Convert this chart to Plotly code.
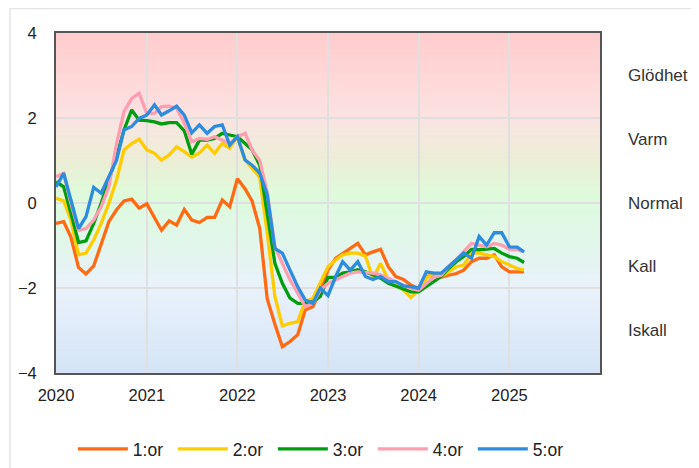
import plotly.graph_objects as go
import pandas as pd

months = pd.date_range("2020-01-01", periods=63, freq="MS").strftime("%Y-%m-%d").tolist()

y1 = [-0.48, -0.44, -0.80, -1.52, -1.67, -1.48, -0.97, -0.44, -0.16, 0.05, 0.09, -0.12,
      -0.02, -0.34, -0.64, -0.42, -0.52, -0.15, -0.40, -0.46, -0.34, -0.34, 0.07, -0.09,
      0.57, 0.33, 0.05, -0.60, -2.25, -2.85, -3.38, -3.26, -3.10, -2.52, -2.44, -2.07,
      -1.58, -1.30, -1.18, -1.07, -0.95, -1.22, -1.15, -1.09, -1.50, -1.73, -1.80, -1.93,
      -2.01, -1.73, -1.69, -1.75, -1.70, -1.66, -1.58, -1.38, -1.30, -1.30, -1.22, -1.50,
      -1.62, -1.62, -1.62]
y2 = [0.11, 0.05, -0.40, -1.22, -1.18, -0.87, -0.48, -0.01, 0.54, 1.25, 1.40, 1.50,
      1.25, 1.17, 1.01, 1.13, 1.32, 1.21, 1.08, 1.18, 1.36, 1.17, 1.40, 1.29,
      1.56, 1.01, 0.82, 0.60, -0.70, -2.20, -2.89, -2.83, -2.79, -2.32, -2.24, -1.89,
      -1.50, -1.34, -1.22, -1.18, -1.18, -1.25, -1.77, -1.42, -1.81, -1.93, -2.05, -2.22,
      -2.05, -1.77, -1.65, -1.73, -1.62, -1.50, -1.46, -1.18, -1.18, -1.22, -1.26, -1.38,
      -1.46, -1.54, -1.58]
y3 = [0.50, 0.38, -0.24, -0.93, -0.89, -0.48, -0.01, 0.54, 1.09, 1.72, 2.19, 1.95,
      1.94, 1.91, 1.86, 1.89, 1.89, 1.70, 1.15, 1.48, 1.48, 1.52, 1.64, 1.60,
      1.56, 1.40, 1.25, 0.89, -0.20, -1.42, -1.89, -2.24, -2.36, -2.36, -2.32, -2.20,
      -1.75, -1.75, -1.65, -1.62, -1.57, -1.62, -1.69, -1.77, -1.89, -1.95, -2.01, -2.09,
      -2.09, -1.97, -1.85, -1.73, -1.54, -1.38, -1.26, -1.09, -1.10, -1.09, -1.07, -1.18,
      -1.26, -1.30, -1.40]
y4 = [0.62, 0.70, -0.01, -0.64, -0.60, -0.40, -0.09, 0.38, 1.40, 2.15, 2.46, 2.58,
      2.11, 2.11, 2.27, 2.28, 2.23, 1.88, 1.44, 1.52, 1.50, 1.56, 1.48, 1.40,
      1.56, 1.64, 1.25, 1.00, 0.25, -1.03, -1.42, -1.81, -2.12, -2.44, -2.36, -2.05,
      -1.89, -1.81, -1.73, -1.65, -1.62, -1.64, -1.65, -1.69, -1.77, -1.85, -1.93, -2.01,
      -2.05, -1.89, -1.75, -1.70, -1.50, -1.33, -1.15, -0.95, -0.99, -1.03, -0.95, -0.99,
      -1.09, -1.10, -1.15]
y5 = [0.38, 0.70, 0.07, -0.60, -0.32, 0.37, 0.23, 0.62, 1.01, 1.72, 1.80, 1.99,
      2.07, 2.31, 2.07, 2.17, 2.28, 2.07, 1.65, 1.84, 1.64, 1.80, 1.84, 1.36,
      1.56, 1.01, 0.89, 0.70, 0.20, -1.07, -1.18, -1.58, -1.97, -2.28, -2.36, -2.00,
      -2.18, -1.73, -1.38, -1.58, -1.38, -1.73, -1.80, -1.73, -1.85, -1.85, -1.95, -1.97,
      -2.01, -1.62, -1.65, -1.65, -1.50, -1.34, -1.18, -1.30, -0.79, -0.99, -0.70, -0.70,
      -1.03, -1.04, -1.15]

series_names = ["1:or", "2:or", "3:or", "4:or", "5:or"]
series_values = [y1, y2, y3, y4, y5]
series_colors = ["#ff6a13", "#ffcc00", "#009e0f", "#ff9eb0", "#2b8ce0"]

zone_labels = ["Glödhet", "Varm", "Normal", "Kall", "Iskall"]
zone_positions = [3, 1.5, 0, -1.5, -3]

x_tick_vals = ["2020-01-01", "2021-01-01", "2022-01-01", "2023-01-01", "2024-01-01", "2025-01-01"]
x_tick_text = ["2020", "2021", "2022", "2023", "2024", "2025"]
y_ticks = [-4, -2, 0, 2, 4]

fig = go.Figure()
for name, vals, col in zip(series_names, series_values, series_colors):
    fig.add_trace(go.Scatter(x=months, y=vals, mode="lines", name=name,
                             line=dict(color=col, width=3.3)))

# background gradient
stops = [(4, (255, 204, 204)), (2.2, (253, 224, 224)), (2, (250, 228, 226)),
         (1, (236, 238, 214)), (0.2, (222, 250, 218)), (0, (222, 250, 222)),
         (-1, (226, 246, 236)), (-2, (233, 242, 251)), (-4, (212, 228, 246))]

def col_at(v):
    for (a, ca), (b, cb) in zip(stops[:-1], stops[1:]):
        if b <= v <= a:
            t = (a - v) / (a - b)
            c = [round(ca[k] + (cb[k] - ca[k]) * t) for k in range(3)]
            return "rgb(%d,%d,%d)" % tuple(c)
    return "rgb(255,255,255)"

shapes = []
n = 100
for k in range(n):
    top = 4 - 8 * k / n
    bot = 4 - 8 * (k + 1) / n
    shapes.append(dict(type="rect", xref="paper", yref="y", x0=0, x1=1,
                       y0=max(bot - 0.04, -4), y1=top,
                       fillcolor=col_at((top + bot) / 2), line=dict(width=0), layer="below"))
# outer light frame
shapes.append(dict(type="rect", xref="paper", yref="paper", x0=-0.0846, x1=1.3, y0=-0.4, y1=1.072,
                   line=dict(color="#e4e4e4", width=1.5), fillcolor="rgba(0,0,0,0)", layer="below"))

annotations = [dict(x=1.047, xref="paper", y=p, yref="y", text=t, showarrow=False,
                    xanchor="left", yanchor="middle", font=dict(size=17, color="#333333"))
               for t, p in zip(zone_labels, zone_positions)]

fig.update_layout(
    width=691, height=460,
    margin=dict(l=48, r=99, t=25, b=95, autoexpand=False),
    paper_bgcolor="white", plot_bgcolor="white",
    font=dict(family="Liberation Sans, Arial, sans-serif", size=16.5, color="#222222"),
    shapes=shapes, annotations=annotations,
    showlegend=True,
    legend=dict(orientation="h", x=0.031, xanchor="left", y=-0.2235, yanchor="middle",
                itemwidth=50, entrywidth=35, font=dict(size=17.5, color="#222222"),
                bgcolor="rgba(0,0,0,0)"),
)
fig.update_xaxes(range=["2020-01-01", "2026-01-01"], tickvals=x_tick_vals, ticktext=x_tick_text,
                 showgrid=True, gridcolor="#e0e0e0", gridwidth=1.5,
                 showline=True, linecolor="#555555", linewidth=2, mirror=True,
                 ticks="", ticklabelstandoff=6, zeroline=False, fixedrange=True)
fig.update_yaxes(range=[-4, 4], tickvals=y_ticks, showgrid=True, gridcolor="#e0e0e0",
                 gridwidth=1.5, showline=True, linecolor="#555555", linewidth=2, mirror=True,
                 ticks="", ticklabelstandoff=14, zeroline=False, fixedrange=True)

fig.write_html("out.html")
